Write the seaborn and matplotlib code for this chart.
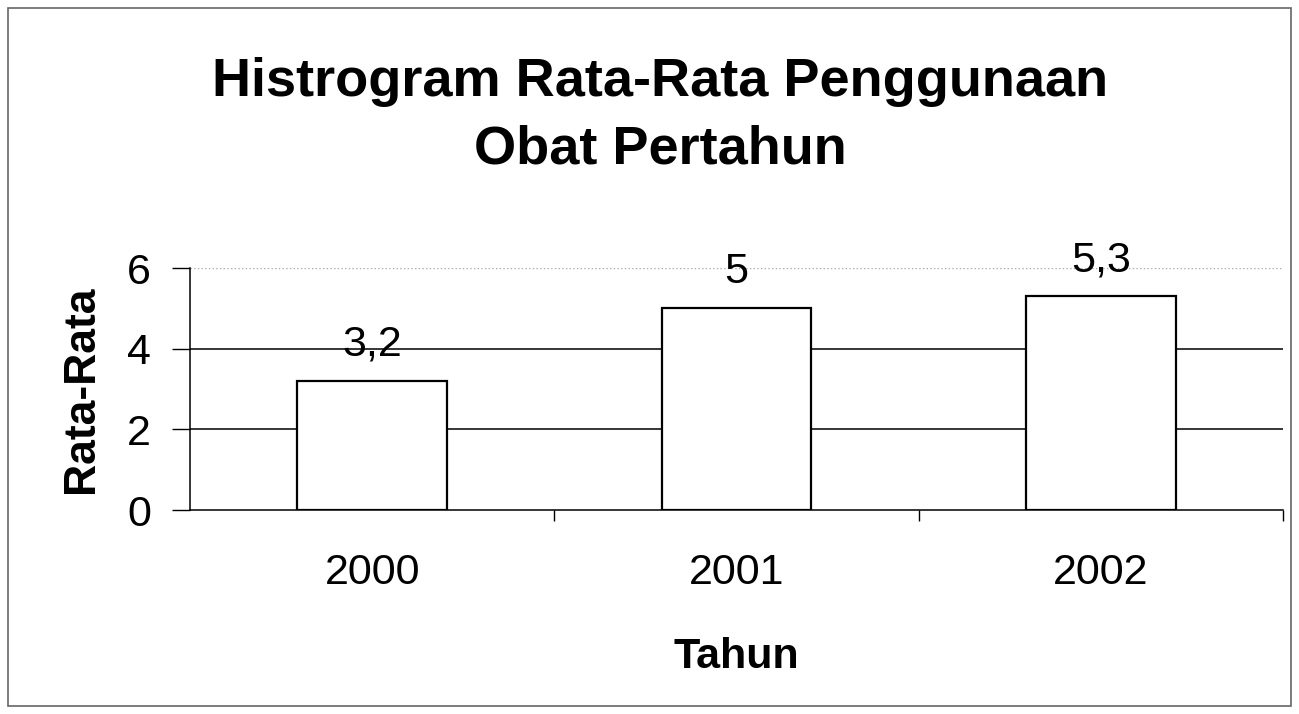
import matplotlib
matplotlib.use("Agg")
import matplotlib.pyplot as plt
import seaborn as sns
import pandas as pd

years = ["2000", "2001", "2002"]
values = [3.2, 5.0, 5.3]
value_labels = ["3,2", "5", "5,3"]
y_ticks = [0, 2, 4, 6]

sns.set_theme(style="white", rc={"text.color": "black", "axes.labelcolor": "black",
                                 "xtick.color": "black", "ytick.color": "black"})
plt.rcParams['font.family'] = ['Liberation Sans', 'DejaVu Sans']

df = pd.DataFrame({"Tahun": years, "Rata-Rata": values})

fig = plt.figure(figsize=(12.99, 7.14), dpi=100)
ax = fig.add_axes([190/1299, 1 - 510/714, (1283-190)/1299, (510-268)/714])

sns.barplot(data=df, x="Tahun", y="Rata-Rata", ax=ax, color="white",
            edgecolor="black", linewidth=1.6, width=0.41, saturation=1, zorder=3)

ax.set_ylim(0, 6)
ax.set_xlim(-0.5, 2.5)
ax.set_yticks(y_ticks)
ax.set_yticklabels([str(t) for t in y_ticks], fontsize=31)
ax.set_xticks([0, 1, 2])
ax.set_xticks([0.5, 1.5, 2.5], minor=True)
ax.tick_params(axis='x', which='major', labelsize=31, pad=31, length=0)
ax.tick_params(axis='x', which='minor', length=8, width=1, color='black', bottom=True)
ax.tick_params(axis='y', length=13, width=1, color='black', left=True, pad=15)

for t in [2, 4]:
    ax.axhline(t, color='black', linewidth=1.1, zorder=1)
ax.axhline(6, color='#aaaaaa', linewidth=1, linestyle=':', zorder=1)

for spine in ['top', 'right']:
    ax.spines[spine].set_visible(False)
for spine in ['left', 'bottom']:
    ax.spines[spine].set_color('black')
    ax.spines[spine].set_linewidth(1.1)

for i, (v, lab) in enumerate(zip(values, value_labels)):
    ax.text(i, v + 0.62, lab, ha='center', va='baseline', fontsize=31, zorder=4, color='black')

ax.set_xlabel("Tahun", fontsize=31, fontweight='bold', labelpad=32)
ax.set_ylabel("Rata-Rata", fontsize=32, fontweight='bold', labelpad=18)

fig.text(660/1299, 1 - 82/714, "Histrogram Rata-Rata Penggunaan", ha='center', va='center',
         fontsize=39, fontweight='bold', color='black')
fig.text(660/1299, 1 - 150/714, "Obat Pertahun", ha='center', va='center',
         fontsize=39, fontweight='bold', color='black')

border = plt.Rectangle((8/1299, 8/714), 1 - 16/1299, 1 - 16/714, transform=fig.transFigure,
                       fill=False, edgecolor='#666666', linewidth=1.2)
fig.patches.append(border)

fig.savefig("out.png", dpi=100, facecolor='white')
